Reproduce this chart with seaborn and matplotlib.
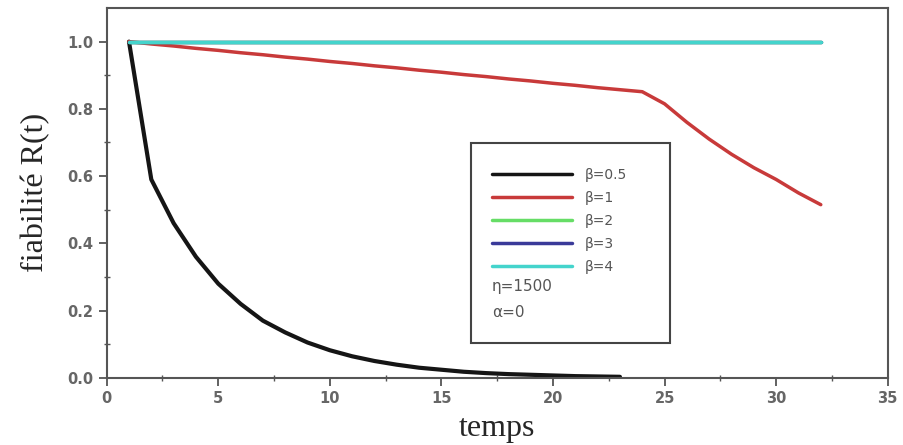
import numpy as np
import pandas as pd
import seaborn as sns
import matplotlib.pyplot as plt
from matplotlib.patches import Rectangle

# temps (t = 1 .. 32)
temps = list(range(1, 33))

# fiabilite R(t), one list per beta
r_beta_05 = [1.0, 0.59, 0.46, 0.36, 0.28, 0.22, 0.17, 0.135, 0.105, 0.082,
             0.064, 0.05, 0.039, 0.03, 0.024, 0.018, 0.014, 0.011, 0.009, 0.007,
             0.005, 0.004, 0.003] + [np.nan] * 9
r_beta_1 = [1.0, 0.993, 0.987, 0.980, 0.974, 0.967, 0.961, 0.954, 0.948, 0.941,
            0.935, 0.928, 0.922, 0.915, 0.909, 0.902, 0.896, 0.889, 0.883, 0.876,
            0.870, 0.863, 0.857, 0.851, 0.815, 0.76, 0.71, 0.665, 0.625, 0.59,
            0.55, 0.515]
r_beta_2 = [1.0] * 32
r_beta_3 = [1.0] * 32
r_beta_4 = [1.0] * 32

labels = ["β=0.5", "β=1", "β=2", "β=3", "β=4"]
colors = ["#151515", "#c83a3a", "#66dd66", "#3a3a99", "#44d4cc"]

df = pd.DataFrame({"temps": temps, labels[0]: r_beta_05, labels[1]: r_beta_1,
                   labels[2]: r_beta_2, labels[3]: r_beta_3, labels[4]: r_beta_4})
long_df = df.melt(id_vars="temps", var_name="beta", value_name="R").dropna()

sns.set_style("ticks")
fig = plt.figure(figsize=(9.04, 4.45), dpi=100)
ax = fig.add_axes([0.118, 0.151, 0.864, 0.831])

sns.lineplot(data=long_df, x="temps", y="R", hue="beta", hue_order=labels,
             palette=colors, linewidth=2.5, ax=ax, legend=True)
# black curve a bit thicker
ax.lines[0].set_linewidth(3)

ax.set_xlim(0, 35)
ax.set_ylim(0, 1.1)
ax.set_xticks(range(0, 36, 5))
ax.set_yticks([0, 0.2, 0.4, 0.6, 0.8, 1.0])
ax.set_xticks(np.arange(0, 35, 2.5), minor=True)
ax.set_yticks(np.arange(0, 1.1, 0.1), minor=True)
ax.set_yticklabels(["0.0", "0.2", "0.4", "0.6", "0.8", "1.0"])
ax.tick_params(which="major", direction="out", length=6, width=1.3,
               color="#555555", labelcolor="#666666", labelsize=10.5)
ax.tick_params(which="minor", direction="inout", length=4, width=1.0, color="#555555")
for lab in ax.get_xticklabels() + ax.get_yticklabels():
    lab.set_fontweight("bold")

for sp in ax.spines.values():
    sp.set_visible(True)
    sp.set_color("#555555")
    sp.set_linewidth(1.5)

ax.set_xlabel("temps", family="Liberation Serif", fontsize=23, labelpad=6)
ax.set_ylabel("fiabilité R(t)", family="Liberation Serif", fontsize=23, labelpad=12)

leg = ax.legend(loc="upper left", bbox_to_anchor=(0.493, 0.568), frameon=False,
                fontsize=10, handlelength=5.8, handletextpad=0.9, labelspacing=0.65,
                borderpad=0, borderaxespad=0)
for t in leg.get_texts():
    t.set_color("#555555")

ax.add_patch(Rectangle((0.467, 0.095), 0.254, 0.54, transform=ax.transAxes,
                       fill=False, edgecolor="#444444", linewidth=1.5))
ax.text(0.493, 0.246, "η=1500", transform=ax.transAxes, fontsize=11,
        color="#555555", va="center", ha="left")
ax.text(0.493, 0.176, "α=0", transform=ax.transAxes, fontsize=11,
        color="#555555", va="center", ha="left")

plt.savefig("out.png", dpi=100)
